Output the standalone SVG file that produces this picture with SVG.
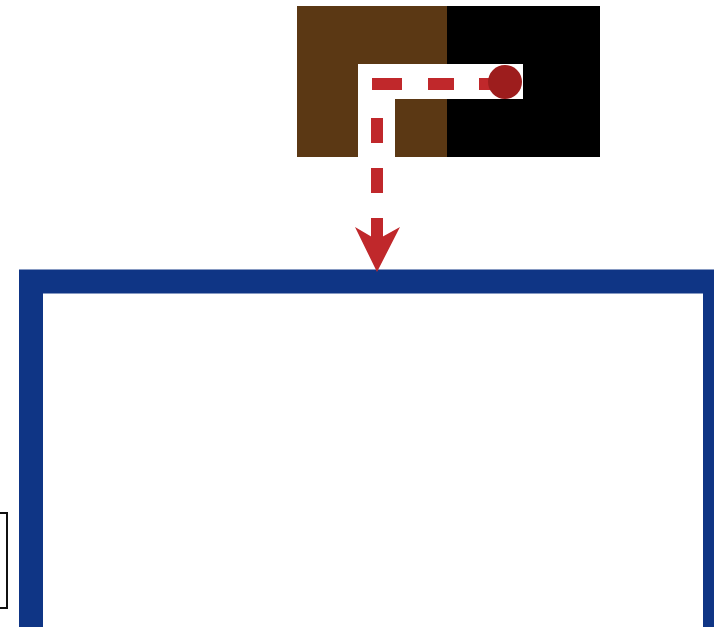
<svg xmlns="http://www.w3.org/2000/svg" width="714" height="627" viewBox="0 0 714 627">
  <style>
    .dash { fill: none; stroke: #c0282b; stroke-width: 12; }
  </style>
  <rect x="0" y="0" width="714" height="627" fill="#ffffff"/>
  <g id="source">
    <rect x="297" y="6" width="150" height="151" fill="#5b3814"/>
    <rect x="447" y="6" width="153" height="151" fill="#000000"/>
    <path d="M358,64 H523 V99 H395 V157 H358 Z" fill="#ffffff"/>
  </g>
  <g id="container">
    <rect x="31" y="281.5" width="684" height="400" fill="#ffffff" stroke="#0f3585" stroke-width="24"/>
  </g>
  <g id="side-box">
    <rect x="-10" y="513" width="17" height="95" fill="#ffffff" stroke="#111111" stroke-width="2"/>
  </g>
  <g id="connectors">
    <path class="dash" d="M505,84 H372" stroke-dasharray="26 25 26 26 30"/>
    <path class="dash" d="M377,118 V240" stroke-dasharray="25 25"/>
    <polygon points="355,227 372,237 372,220 382,220 382,237 400,227 377,272" fill="#c0282b"/>
    <circle cx="505" cy="82" r="17" fill="#9d1d1d"/>
  </g>
</svg>
